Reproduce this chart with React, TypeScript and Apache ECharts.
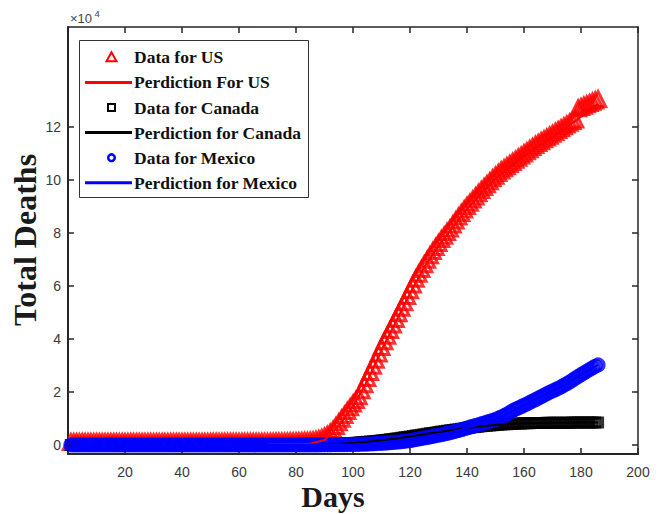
import React, { useEffect, useRef } from "react";
import * as echarts from "echarts";

// Daily total deaths, day 1 .. 186
const US_DEATHS = [
  0, 0, 0, 0, 0, 0, 0, 0, 0, 0,
  0, 0, 0, 0, 0, 0, 0, 0, 0, 0,
  0, 0, 0, 0, 0, 0, 0, 0, 0, 0,
  0, 0, 0, 0, 0, 0, 0, 0, 0, 0,
  0, 0, 0, 0, 0, 0, 1, 1, 1, 1,
  2, 2, 3, 3, 4, 5, 6, 7, 9, 11,
  13, 16, 19, 23, 27, 32, 38, 45, 53, 62,
  72, 84, 98, 114, 132, 152, 175, 201, 230, 263,
  300, 342, 390, 444, 505, 600, 800, 1100, 1500, 2000,
  2700, 3500, 4600, 6000, 7400, 8800, 10200, 11700, 13100, 14500,
  15800, 17200, 19500, 21800, 24100, 26400, 28700, 31000, 33400, 35800,
  38000, 40100, 42200, 44300, 46400, 48500, 50600, 52700, 55000, 57200,
  59400, 61500, 63400, 65200, 67000, 68700, 70400, 72000, 73500, 75000,
  76500, 77800, 79200, 80500, 82000, 83500, 85000, 86300, 87700, 89000,
  90200, 91400, 92600, 93800, 95000, 96100, 97200, 98300, 99400, 100400,
  101400, 102400, 103200, 104000, 104800, 105600, 106400, 107200, 108000, 108800,
  109600, 110400, 111200, 112000, 112700, 113400, 114100, 114800, 115500, 116200,
  116900, 117600, 118300, 119000, 119700, 120400, 121000, 121600, 125800, 126300,
  126800, 127300, 127800, 128300, 128800, 129300,
];

const CANADA_DEATHS = [
  0, 0, 0, 0, 0, 0, 0, 0, 0, 0,
  0, 0, 0, 0, 0, 0, 0, 0, 0, 0,
  0, 0, 0, 0, 0, 0, 0, 0, 0, 0,
  0, 0, 0, 0, 0, 0, 0, 0, 0, 0,
  0, 0, 0, 0, 0, 0, 0, 0, 0, 0,
  0, 0, 0, 0, 0, 0, 0, 0, 0, 0,
  1, 1, 1, 2, 2, 3, 3, 4, 5, 6,
  8, 10, 12, 15, 18, 22, 27, 33, 40, 48,
  57, 67, 78, 90, 104, 120, 138, 158, 180, 205,
  240, 275, 315, 360, 410, 465, 525, 590, 660, 735,
  815, 900, 990, 1085, 1185, 1290, 1400, 1515, 1635, 1760,
  1890, 2020, 2150, 2290, 2430, 2580, 2730, 2880, 3040, 3200,
  3370, 3540, 3710, 3880, 4050, 4220, 4390, 4560, 4730, 4890,
  5050, 5210, 5370, 5520, 5670, 5820, 5970, 6110, 6250, 6390,
  6520, 6650, 6780, 6900, 7020, 7130, 7240, 7340, 7440, 7530,
  7620, 7700, 7780, 7850, 7920, 7980, 8040, 8090, 8130, 8170,
  8200, 8230, 8250, 8270, 8290, 8310, 8330, 8340, 8350, 8360,
  8370, 8380, 8390, 8400, 8410, 8420, 8430, 8440, 8450, 8460,
  8470, 8480, 8490, 8500, 8510, 8520,
];

const MEXICO_DEATHS = [
  0, 0, 0, 0, 0, 0, 0, 0, 0, 0,
  0, 0, 0, 0, 0, 0, 0, 0, 0, 0,
  0, 0, 0, 0, 0, 0, 0, 0, 0, 0,
  0, 0, 0, 0, 0, 0, 0, 0, 0, 0,
  0, 0, 0, 0, 0, 0, 0, 0, 0, 0,
  0, 0, 0, 0, 0, 0, 0, 0, 0, 0,
  0, 0, 0, 0, 0, 0, 0, 0, 0, 0,
  1, 1, 2, 2, 3, 4, 5, 6, 8, 10,
  12, 14, 17, 20, 24, 28, 33, 38, 44, 50,
  57, 65, 74, 84, 95, 107, 120, 135, 151, 169,
  200, 230, 265, 300, 340, 385, 435, 490, 550, 615,
  690, 770, 855, 945, 1040, 1140, 1250, 1370, 1500, 1640,
  1850, 2030, 2220, 2420, 2620, 2830, 3040, 3250, 3460, 3680,
  3900, 4120, 4350, 4600, 4880, 5170, 5470, 5780, 6090, 6400,
  6710, 7020, 7330, 7640, 7950, 8270, 8590, 8920, 9260, 9620,
  10100, 10550, 11050, 11600, 12250, 12900, 13450, 13950, 14450, 14950,
  15450, 16000, 16550, 17100, 17650, 18200, 18750, 19300, 19850, 20350,
  20850, 21350, 21900, 22500, 23100, 23750, 24450, 25150, 25850, 26500,
  27150, 27800, 28450, 29050, 29650, 30200,
];

// Prediction curves
const PRED_DAYS = [1, 10, 20, 30, 40, 50, 60, 70, 80, 85, 90, 95, 100, 105, 110, 115, 120, 125, 130, 135, 140, 145, 150, 155, 160, 165, 170, 175, 180, 186];
const US_PRED = [0, 0, 0, 0, 0, 0, 10, 60, 250, 500, 1900, 7200, 14500, 24100, 35800, 46400, 57200, 67000, 75000, 82000, 89000, 95000, 100400, 104800, 108800, 112700, 116200, 119700, 123800, 128600];
const CANADA_PRED = [0, 0, 0, 0, 0, 0, 1, 6, 48, 104, 205, 360, 735, 1185, 1760, 2430, 3200, 4050, 4890, 5670, 6390, 7020, 7530, 7920, 8170, 8290, 8360, 8410, 8460, 8520];
const MEXICO_PRED = [0, 0, 0, 0, 0, 0, 0, 0, 10, 24, 50, 95, 169, 340, 615, 1040, 1640, 2620, 3680, 4880, 6400, 7950, 9620, 12250, 14950, 17650, 20350, 23100, 26500, 30200];

const Y_TICKS = [0, 20000, 40000, 60000, 80000, 100000, 120000];
const X_MIN = 0;
const X_MAX = 200;
const X_STEP = 20;
const Y_MIN = -3400;
const Y_MAX = 157600;

const LEGEND_LABELS = [
  "Data for US",
  "Perdiction For US",
  "Data for Canada",
  "Perdiction for Canada",
  "Data for Mexico",
  "Perdiction for Mexico",
];

const RED = "#ff0000";
const BLACK = "#000000";
const BLUE = "#0000ff";
const AXIS = "#262626";

export default function App() {
  const ref = useRef<HTMLDivElement>(null);

  useEffect(() => {
    if (!ref.current) return;
    const chart = echarts.init(ref.current, undefined, { renderer: "svg" });

    const daily = (arr: number[]) => arr.map((v, i) => [i + 1, v]);
    const pred = (arr: number[]) => arr.map((v, i) => [PRED_DAYS[i], v]);

    const serif = '"Liberation Serif", "Times New Roman", serif';
    const sans = '"Liberation Sans", Arial, sans-serif';

    const rowY = (i: number) => 57.3 + i * 25.1;
    const lx1 = 85, lx2 = 132, mx = 111.5, tx = 134;

    const legendEls: any[] = [
      {
        type: "rect",
        z: 100,
        shape: { x: 79.5, y: 40.5, width: 229, height: 157 },
        style: { fill: "#ffffff", stroke: "#333333", lineWidth: 1 },
      },
      {
        type: "polygon",
        z: 101,
        shape: { points: [[mx, rowY(0) - 5], [mx - 5, rowY(0) + 4], [mx + 5, rowY(0) + 4]] },
        style: { fill: "none", stroke: RED, lineWidth: 2 },
      },
      {
        type: "line",
        z: 101,
        shape: { x1: lx1, y1: rowY(1), x2: lx2, y2: rowY(1) },
        style: { stroke: RED, lineWidth: 3 },
      },
      {
        type: "rect",
        z: 101,
        shape: { x: mx - 3.5, y: rowY(2) - 3.5, width: 7, height: 7 },
        style: { fill: "none", stroke: BLACK, lineWidth: 2 },
      },
      {
        type: "line",
        z: 101,
        shape: { x1: lx1, y1: rowY(3), x2: lx2, y2: rowY(3) },
        style: { stroke: BLACK, lineWidth: 3 },
      },
      {
        type: "circle",
        z: 101,
        shape: { cx: mx, cy: rowY(4), r: 3.3 },
        style: { fill: "none", stroke: BLUE, lineWidth: 2.5 },
      },
      {
        type: "line",
        z: 101,
        shape: { x1: lx1, y1: rowY(5), x2: lx2, y2: rowY(5) },
        style: { stroke: BLUE, lineWidth: 3 },
      },
      ...LEGEND_LABELS.map((t, i) => ({
        type: "text",
        z: 101,
        x: tx,
        y: rowY(i),
        style: {
          text: t,
          font: `bold 17.5px ${serif}`,
          fill: "#111111",
          align: "left",
          verticalAlign: "middle",
        },
      })),
    ];

    const option: any = {
      animation: false,
      backgroundColor: "#ffffff",
      grid: { left: 68, top: 27, right: 24, bottom: 60, containLabel: false },
      xAxis: [
        {
          type: "value",
          min: X_MIN,
          max: X_MAX,
          interval: X_STEP,
          position: "bottom",
          axisLine: { show: true, onZero: false, lineStyle: { color: AXIS, width: 2 } },
          axisTick: { show: true, inside: true, length: 6, lineStyle: { color: AXIS, width: 1.5 } },
          axisLabel: { showMinLabel: false, fontSize: 14, color: "#3a3a3a", margin: 11, fontFamily: sans },
          splitLine: { show: false },
        },
        {
          type: "value",
          min: X_MIN,
          max: X_MAX,
          interval: X_STEP,
          position: "top",
          axisLine: { show: true, onZero: false, lineStyle: { color: AXIS, width: 1.5 } },
          axisTick: { show: true, inside: true, length: 6, lineStyle: { color: AXIS, width: 1.5 } },
          axisLabel: { show: false },
          splitLine: { show: false },
        },
      ],
      yAxis: [
        {
          type: "value",
          min: Y_MIN,
          max: Y_MAX,
          position: "left",
          axisLine: { show: true, onZero: false, lineStyle: { color: AXIS, width: 2 } },
          axisTick: { show: true, inside: true, length: 6, customValues: Y_TICKS, lineStyle: { color: AXIS, width: 1.5 } },
          axisLabel: {
            customValues: Y_TICKS,
            formatter: (v: number) => String(Math.round(v / 10000)),
            fontSize: 14,
            color: "#3a3a3a",
            margin: 7,
            fontFamily: sans,
          },
          splitLine: { show: false },
        },
        {
          type: "value",
          min: Y_MIN,
          max: Y_MAX,
          position: "right",
          axisLine: { show: true, onZero: false, lineStyle: { color: AXIS, width: 1.5 } },
          axisTick: { show: true, inside: true, length: 6, customValues: Y_TICKS, lineStyle: { color: AXIS, width: 1.5 } },
          axisLabel: { show: false, customValues: Y_TICKS },
          splitLine: { show: false },
        },
      ],
      series: [
        {
          type: "scatter",
          name: LEGEND_LABELS[0],
          data: daily(US_DEATHS),
          symbol: "triangle",
          symbolSize: 15,
          symbolOffset: [0, -3],
          itemStyle: { color: "rgba(0,0,0,0)", borderColor: RED, borderWidth: 3 },
          silent: true,
        },
        {
          type: "line",
          name: LEGEND_LABELS[1],
          data: pred(US_PRED),
          showSymbol: false,
          symbol: "none",
          lineStyle: { color: RED, width: 2 },
          silent: true,
        },
        {
          type: "scatter",
          name: LEGEND_LABELS[2],
          data: daily(CANADA_DEATHS),
          symbol: "rect",
          symbolSize: 9,
          itemStyle: { color: "rgba(0,0,0,0)", borderColor: BLACK, borderWidth: 3 },
          silent: true,
        },
        {
          type: "line",
          name: LEGEND_LABELS[3],
          data: pred(CANADA_PRED),
          showSymbol: false,
          symbol: "none",
          lineStyle: { color: BLACK, width: 2 },
          silent: true,
        },
        {
          type: "scatter",
          name: LEGEND_LABELS[4],
          data: daily(MEXICO_DEATHS),
          symbol: "circle",
          symbolSize: 11.5,
          itemStyle: { color: "rgba(0,0,0,0)", borderColor: BLUE, borderWidth: 3.5 },
          silent: true,
        },
        {
          type: "line",
          name: LEGEND_LABELS[5],
          data: pred(MEXICO_PRED),
          showSymbol: false,
          symbol: "none",
          lineStyle: { color: BLUE, width: 2 },
          silent: true,
        },
      ],
      graphic: [
        {
          type: "text",
          z: 50,
          x: 70,
          y: 18,
          style: { text: "×10", font: `13px ${sans}`, fill: "#444444", align: "left", verticalAlign: "middle" },
        },
        {
          type: "text",
          z: 50,
          x: 94.5,
          y: 13,
          style: { text: "4", font: `9.5px ${sans}`, fill: "#444444", align: "left", verticalAlign: "middle" },
        },
        {
          type: "text",
          z: 50,
          x: 25,
          y: 240,
          rotation: Math.PI / 2,
          style: {
            text: "Total Deaths",
            font: `bold 32px ${serif}`,
            fill: "#1a1a1a",
            align: "center",
            verticalAlign: "middle",
          },
        },
        {
          type: "text",
          z: 50,
          x: 333,
          y: 496,
          style: {
            text: "Days",
            font: `bold 30px ${serif}`,
            fill: "#1a1a1a",
            align: "center",
            verticalAlign: "middle",
          },
        },
        ...legendEls,
      ],
    };

    chart.setOption(option);
    return () => chart.dispose();
  }, []);

  return (
    <div
      ref={ref}
      style={{ position: "absolute", left: 0, top: 0, width: 662, height: 514, background: "#fff" }}
    />
  );
}
